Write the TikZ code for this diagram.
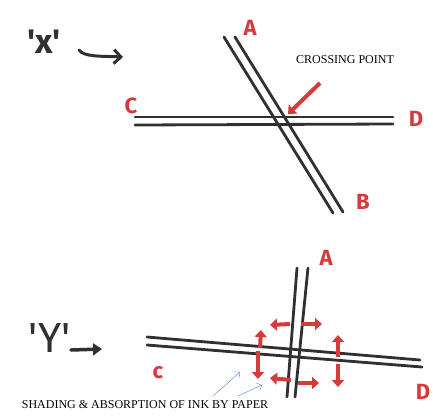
\documentclass[tikz,border=0pt]{standalone}
\usepackage{fontspec}
\setmainfont{Liberation Serif}
\newfontfamily\markerfont{Fira Sans}
\definecolor{MarkerRed}{RGB}{214,58,58}
\definecolor{InkGray}{RGB}{48,48,48}
\definecolor{PenBlue}{RGB}{90,130,200}
\usetikzlibrary{arrows.meta, positioning, calc}

\begin{document}
\begin{tikzpicture}[x=1pt, y=-1pt,
	inkline/.style={draw=InkGray, line width=2.8pt, line cap=round},
	redarrow/.style={draw=MarkerRed, line width=4pt, -{Triangle[length=7pt, width=12pt]}},
	redlabel/.style={text=MarkerRed, font=\markerfont\bfseries\fontsize{22}{22}\selectfont},
	handlabel/.style={text=InkGray, font=\markerfont\fontsize{42}{42}\selectfont},
	caption/.style={font=\fontsize{12}{13}\selectfont, text=black}]
	\useasboundingbox (0,0) rectangle (433,416);
	% top sketch: lines crossing at an angle
	\node[handlabel, font=\markerfont\bfseries\fontsize{34}{34}\selectfont] (xlabel) at (44,42) {'x'};
	\coordinate (xarrs) at (79,50);
	\coordinate (xarre) at (123,57);
	\draw[InkGray, line width=3pt, line cap=round, -{Straight Barb[length=7pt, width=14pt]}]
		(xarrs) .. controls (84,57) and (100,56) .. (xarre);
	\coordinate (a1) at (224,37); \coordinate (b1) at (333,213);
	\coordinate (a2) at (235,37); \coordinate (b2) at (343,212);
	\coordinate (c1) at (135,117); \coordinate (d1) at (393,117);
	\coordinate (c2) at (135,125); \coordinate (d2) at (393,124);
	\draw[inkline] (a1) -- (b1);
	\draw[inkline] (a2) -- (b2);
	\draw[inkline] (c1) -- (d1);
	\draw[inkline] (c2) -- (d2);
	\node[redlabel] (lblA) at (250,28) {A};
	\node[redlabel] (lblB) at (363,202) {B};
	\node[redlabel] (lblC) at (131,106) {C};
	\node[redlabel] (lblD) at (416,119) {D};
	\node[caption] (cross) at (345,60) {CROSSING POINT};
	\coordinate (crs) at (320,83);
	\coordinate (cre) at (288,114);
	\draw[redarrow] (crs) -- (cre);
	% bottom sketch: lines crossing at a right angle
	\node[handlabel] (ylabel) at (50,338) {'Y'};
	\coordinate (yarrs) at (71,350);
	\coordinate (yarre) at (102,349);
	\draw[InkGray, line width=3.5pt, line cap=round, -{Triangle[length=9pt, width=12pt]}] (yarrs) -- (yarre);
	\coordinate (va1) at (297,268); \coordinate (vb1) at (287,397);
	\coordinate (va2) at (308,268); \coordinate (vb2) at (295,397);
	\coordinate (hc1) at (147,337); \coordinate (hd1) at (420,360);
	\coordinate (hc2) at (147,345); \coordinate (hd2) at (422,367);
	\draw[inkline] (va1) -- (vb1);
	\draw[inkline] (va2) -- (vb2);
	\draw[inkline] (hc1) -- (hd1);
	\draw[inkline] (hc2) -- (hd2);
	\node[redlabel] (lblA2) at (326,258) {A};
	\node[redlabel] (lblC2) at (158,373) {c};
	\node[redlabel] (lblD2) at (423,392) {D};
	% spreading of the ink
	\coordinate (sp1) at (290,324); \coordinate (sp1l) at (270,325);
	\coordinate (sp2) at (301,324); \coordinate (sp2r) at (322,324);
	\coordinate (sp3) at (291,380); \coordinate (sp3l) at (270,378);
	\coordinate (sp4) at (298,383); \coordinate (sp4r) at (319,383);
	\coordinate (sp5) at (260,348); \coordinate (sp5u) at (261,330);
	\coordinate (sp6) at (258,351); \coordinate (sp6d) at (258,379);
	\coordinate (sp7) at (338,357); \coordinate (sp7u) at (338,335);
	\coordinate (sp8) at (338,364); \coordinate (sp8d) at (338,387);
	\foreach \s/\e in {sp1/sp1l, sp2/sp2r, sp3/sp3l, sp4/sp4r, sp5/sp5u, sp6/sp6d, sp7/sp7u, sp8/sp8d}
		\draw[redarrow] (\s) -- (\e);
	\node[caption] (shade) at (145,405) {SHADING \& ABSORPTION OF INK BY PAPER};
	\coordinate (bl1) at (213,396); \coordinate (bl1e) at (240,372);
	\coordinate (bl2) at (238,396); \coordinate (bl2e) at (262,385);
	\draw[PenBlue, thin, -{Straight Barb[length=4pt]}] (bl1) -- (bl1e);
	\draw[PenBlue, thin, -{Straight Barb[length=4pt]}] (bl2) -- (bl2e);
\end{tikzpicture}
\end{document}
